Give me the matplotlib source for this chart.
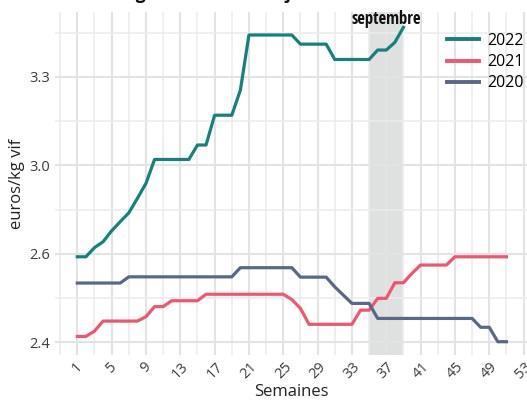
import numpy as np
import matplotlib.pyplot as plt
from matplotlib.lines import Line2D
from matplotlib import font_manager

# Données (euros/kg vif par semaine)
semaines_2022 = np.arange(1, 40)
prix_2022 = [2.64, 2.64, 2.671, 2.691, 2.728, 2.759, 2.789, 2.838, 2.889, 2.970,
             2.970, 2.970, 2.970, 2.970, 3.019, 3.019, 3.120, 3.120, 3.120, 3.205,
             3.392, 3.392, 3.392, 3.392, 3.392, 3.392, 3.361, 3.361, 3.361, 3.361,
             3.309, 3.309, 3.309, 3.309, 3.309, 3.341, 3.341, 3.367, 3.418]

semaines_2021 = np.arange(1, 52)
prix_2021 = [2.370, 2.370, 2.388, 2.422, 2.422, 2.422, 2.422, 2.422, 2.437, 2.471,
             2.471, 2.491, 2.491, 2.491, 2.491, 2.513, 2.513, 2.513, 2.513, 2.513,
             2.513, 2.513, 2.513, 2.513, 2.513, 2.495, 2.465, 2.411, 2.411, 2.411,
             2.411, 2.411, 2.411, 2.459, 2.459, 2.499, 2.499, 2.552, 2.552, 2.584,
             2.612, 2.612, 2.612, 2.612, 2.640, 2.640, 2.640, 2.640, 2.640, 2.640,
             2.640]

semaines_2020 = np.arange(1, 52)
prix_2020 = [2.551, 2.551, 2.551, 2.551, 2.551, 2.551, 2.572, 2.572, 2.572, 2.572,
             2.572, 2.572, 2.572, 2.572, 2.572, 2.572, 2.572, 2.572, 2.572, 2.603,
             2.603, 2.603, 2.603, 2.603, 2.603, 2.603, 2.571, 2.571, 2.571, 2.571,
             2.538, 2.510, 2.482, 2.482, 2.482, 2.431, 2.431, 2.431, 2.431, 2.431,
             2.431, 2.431, 2.431, 2.431, 2.431, 2.431, 2.431, 2.401, 2.401, 2.352,
             2.352]

septembre = (35, 39)
x_ticks = np.arange(1, 54, 4)
y_ticks = [2.35, 2.65, 2.95, 3.25]
y_labels = ['2.4', '2.6', '3.0', '3.3']
y_minor = [2.5, 2.8, 3.1, 3.4]

couleurs = {'2022': '#17807d', '2021': '#f0566f', '2020': '#586888'}

plt.rcParams['font.family'] = ['Open Sans', 'DejaVu Sans']


def condensed_family():
    # police étroite pour l'annotation, si elle existe
    for fam in ['Liberation Sans Narrow', 'Open Sans Condensed', 'DejaVu Sans Condensed',
                'Roboto Condensed', 'Noto Sans Condensed']:
        try:
            font_manager.findfont(font_manager.FontProperties(family=fam, weight='bold'),
                                  fallback_to_default=False)
            return fam, 12
        except Exception:
            pass
    return 'Roboto', 10.5


fig = plt.figure(figsize=(5.27, 4.01), dpi=100)
ax = fig.add_axes([55 / 527, 1 - 355 / 401, 1 - 55 / 527, (355 - 12) / 401])

ax.axvspan(septembre[0], septembre[1], color='#dfe1e0', zorder=0.5, lw=0)

ax.plot(semaines_2022, prix_2022, color=couleurs['2022'], lw=2.3, zorder=3)
ax.plot(semaines_2021, prix_2021, color=couleurs['2021'], lw=2.3, zorder=3)
ax.plot(semaines_2020, prix_2020, color=couleurs['2020'], lw=2.3, zorder=3)

ax.set_xlim(-1.6, 53.4)
ax.set_ylim(2.307, 3.47)

ax.set_xticks(x_ticks)
ax.set_xticks(np.arange(-1, 54, 2), minor=True)
ax.set_yticks(y_ticks)
ax.set_yticklabels(y_labels)
ax.set_yticks(y_minor, minor=True)

ax.grid(which='major', color='#e3e3e3', lw=1.5, zorder=0)
ax.grid(which='minor', color='#ebebeb', lw=1.1, zorder=0)
ax.set_axisbelow(True)

for s in ax.spines.values():
    s.set_visible(False)
ax.tick_params(which='both', length=0, colors='#3c3c3c', labelsize=10.5)
ax.tick_params(axis='x', pad=3)
for lab in ax.get_xticklabels():
    lab.set_rotation(45)
    lab.set_ha('center')
    lab.set_va('top')

ax.set_xlabel('Semaines', fontsize=12, color='#222222', labelpad=2)
ax.set_ylabel('euros/kg vif', fontsize=12, color='#222222', labelpad=3)

fam, taille = condensed_family()
ax.text(37, 3.447, 'septembre', ha='center', va='center', fontsize=taille,
        fontweight='bold', family=[fam, 'DejaVu Sans'], color='#111111', zorder=4)

handles = [Line2D([], [], color=couleurs[k], lw=2.8) for k in ['2022', '2021', '2020']]
ax.legend(handles, ['2022', '2021', '2020'], loc='upper left',
          bbox_to_anchor=(447 / 527, 1 - 33 / 401), bbox_transform=fig.transFigure,
          frameon=False, fontsize=11.5, handlelength=2.0, handletextpad=0.5,
          labelspacing=0.32, borderaxespad=0, borderpad=0)

fig.text(313 / 527, 1 + 1 / 401, 'Broutards charolais 6 -12 mois 350 kg - commission Dijon',
         ha='right', va='baseline', fontsize=12.4, fontweight='bold', color='#111111')

fig.savefig('out.png', dpi=100)
